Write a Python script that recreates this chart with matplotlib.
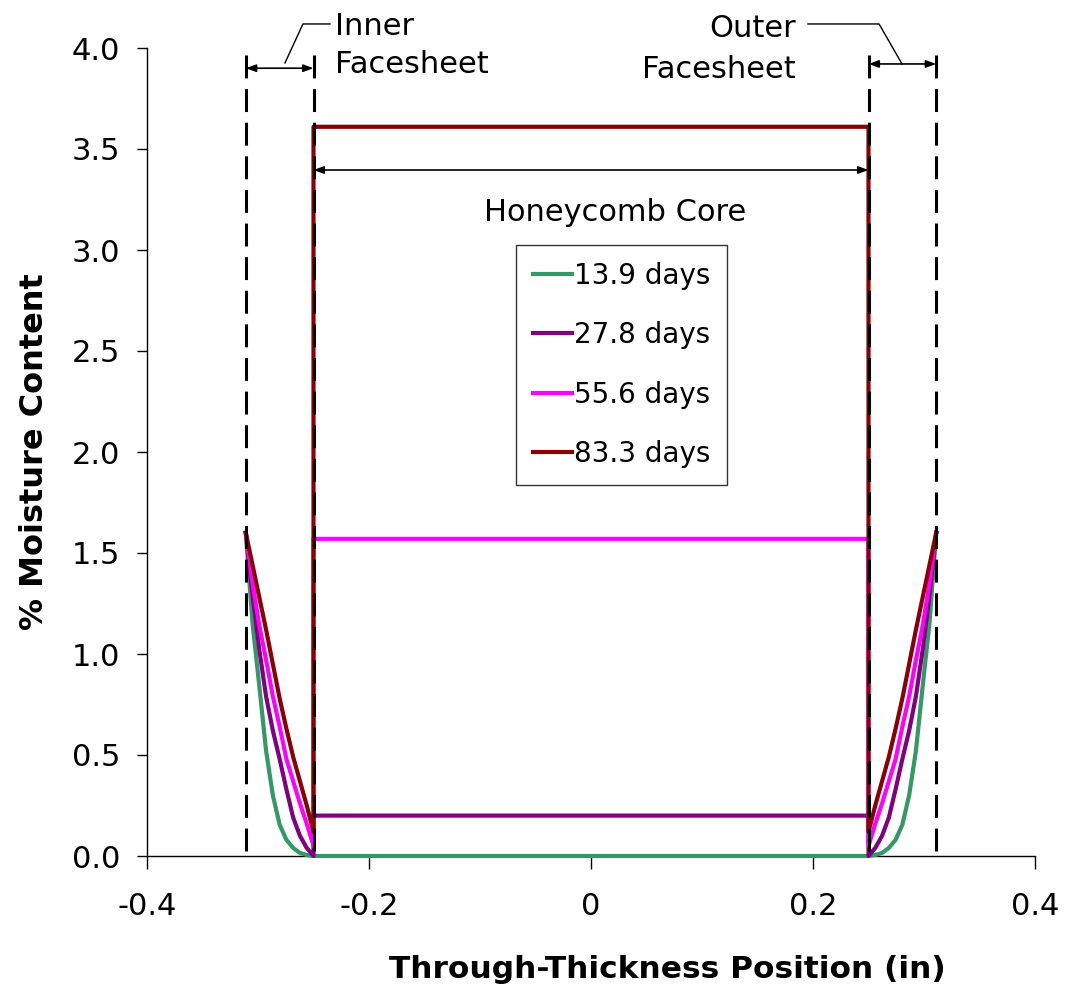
import matplotlib
matplotlib.use("Agg")
import matplotlib.pyplot as plt

plt.rcParams['font.family'] = ['DejaVu Sans']

# ---- data ----
series_labels = ["13.9 days", "27.8 days", "55.6 days", "83.3 days"]
series_colors = ["#339966", "#800080", "#FF00FF", "#8B0000"]

# node positions through the inner facesheet (outer surface -> core interface), in
inner_face_x = [-0.311, -0.3049, -0.2988, -0.2927, -0.2866, -0.2805,
                -0.2744, -0.2683, -0.2622, -0.2561, -0.25]
# node positions through the outer facesheet (core interface -> outer surface), in
outer_face_x = [0.25, 0.2561, 0.2622, 0.2683, 0.2744, 0.2805,
                0.2866, 0.2927, 0.2988, 0.3049, 0.311]
core_x = [-0.25, 0.25]

# moisture profiles through facesheet, from exposed surface to core interface (%)
face_13_9 = [1.60, 1.15, 0.84, 0.52, 0.30, 0.155, 0.08, 0.04, 0.015, 0.005, 0.0]
face_27_8 = [1.60, 1.29, 1.02, 0.79, 0.62, 0.48, 0.33, 0.19, 0.10, 0.04, 0.0]
face_55_6 = [1.60, 1.35, 1.14, 0.97, 0.79, 0.64, 0.48, 0.37, 0.26, 0.16, 0.05]
face_83_3 = [1.60, 1.44, 1.28, 1.12, 0.95, 0.78, 0.63, 0.49, 0.37, 0.25, 0.12]
face_profiles = [face_13_9, face_27_8, face_55_6, face_83_3]

# moisture in honeycomb core (%)
core_values = [0.0, 0.20, 1.57, 3.61]

x_ticks = [-0.4, -0.2, 0.0, 0.2, 0.4]
x_tick_labels = ["-0.4", "-0.2", "0", "0.2", "0.4"]
y_ticks = [0.0, 0.5, 1.0, 1.5, 2.0, 2.5, 3.0, 3.5, 4.0]
y_tick_labels = ["0.0", "0.5", "1.0", "1.5", "2.0", "2.5", "3.0", "3.5", "4.0"]

boundaries_x = [-0.311, -0.25, 0.25, 0.311]

# ---- figure ----
fig = plt.figure(figsize=(10.74, 9.9), dpi=100)
ax = fig.add_axes([147/1074, 1-856/990, (1035-147)/1074, (856-48)/990])

handles = []
for prof, core, col, lab in zip(face_profiles, core_values, series_colors, series_labels):
    xs = inner_face_x + core_x + outer_face_x
    ys = prof + [core, core] + prof[::-1]
    h, = ax.plot(xs, ys, color=col, lw=3.0, label=lab, solid_joinstyle='round',
                 clip_on=False, zorder=3)
    handles.append(h)

# dashed boundaries
for bx in boundaries_x:
    ax.plot([bx, bx], [3.965, 0.0], color='black', lw=2.2, dashes=(7.5, 3.5),
            zorder=4, clip_on=False)

ax.set_xlim(-0.4, 0.4)
ax.set_ylim(0, 4.0)
ax.set_xticks(x_ticks)
ax.set_xticklabels(x_tick_labels)
ax.set_yticks(y_ticks)
ax.set_yticklabels(y_tick_labels)
for s in ['top', 'right']:
    ax.spines[s].set_visible(False)
for s in ['left', 'bottom']:
    ax.spines[s].set_linewidth(1.0)
ax.tick_params(axis='both', direction='out', width=1.0, labelsize=22)
ax.tick_params(axis='y', length=7.5, pad=12)
ax.tick_params(axis='x', length=9, pad=17)

# legend
leg = ax.legend(handles=handles, loc='upper left', bbox_to_anchor=(0.4155, 0.756),
                borderaxespad=0, fontsize=20, frameon=True, fancybox=False,
                handlelength=1.4, handletextpad=0.1, labelspacing=1.13,
                borderpad=0.6)
leg.get_frame().set_edgecolor('black')
leg.get_frame().set_linewidth(1.0)

arrow_kw = dict(arrowstyle='<|-|>,head_length=0.6,head_width=0.22', color='black',
                lw=1.2, shrinkA=0, shrinkB=0)

# Honeycomb core arrow
ax.annotate('', xy=(0.25, 3.396), xytext=(-0.25, 3.396), arrowprops=arrow_kw,
            annotation_clip=False)
ax.text(0.0216, 3.188, 'Honeycomb Core', ha='center', va='center', fontsize=22)

# inner facesheet
ax.annotate('', xy=(-0.25, 3.90), xytext=(-0.311, 3.90), arrowprops=arrow_kw,
            annotation_clip=False)
ax.plot([-0.2757, -0.2595, -0.2351], [3.926, 4.119, 4.119], color='black', lw=1.0,
        clip_on=False)
ax.text(-0.2306, 4.064, 'Inner', ha='left', va='baseline', fontsize=22, clip_on=False)
ax.text(-0.2306, 3.876, 'Facesheet', ha='left', va='baseline', fontsize=22, clip_on=False)

# outer facesheet
ax.annotate('', xy=(0.311, 3.921), xytext=(0.25, 3.921), arrowprops=arrow_kw,
            annotation_clip=False)
ax.plot([0.1955, 0.2595, 0.2802], [4.119, 4.119, 3.921], color='black', lw=1.0,
        clip_on=False)
ax.text(0.1847, 4.054, 'Outer', ha='right', va='baseline', fontsize=22, clip_on=False)
ax.text(0.1847, 3.851, 'Facesheet', ha='right', va='baseline', fontsize=22, clip_on=False)

# axis labels
fig.text(667/1074, 1-970/990, 'Through-Thickness Position (in)', ha='center',
         va='center', fontsize=22.5, fontweight='bold')
fig.text(35/1074, 1-452/990, '% Moisture Content', ha='center', va='center',
         rotation=90, fontsize=23, fontweight='bold')

fig.savefig('out.png', dpi=100)
